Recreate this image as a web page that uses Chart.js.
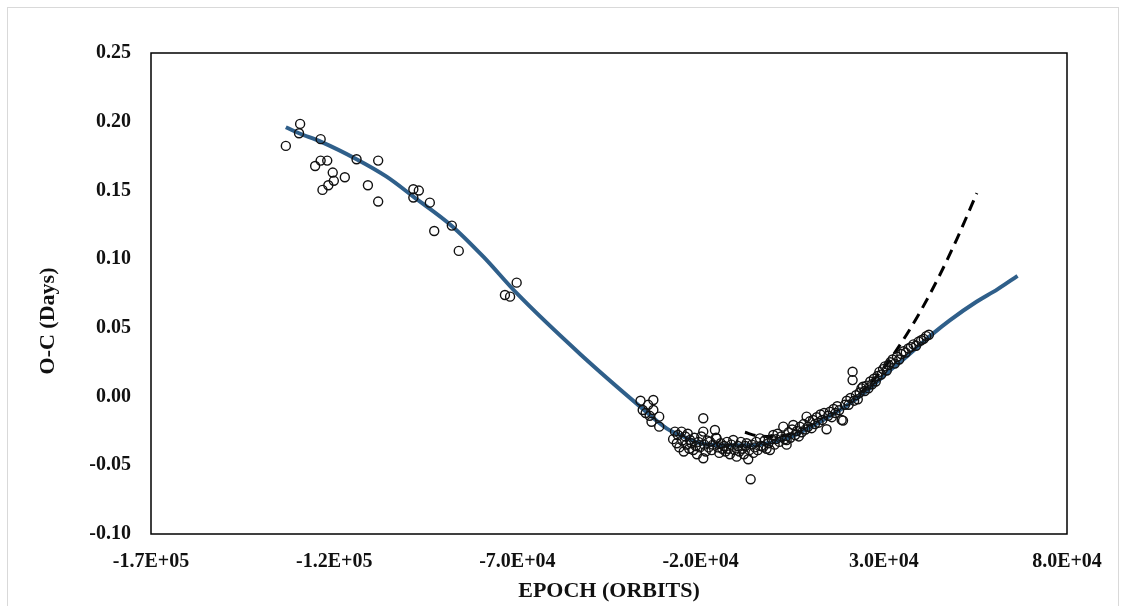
<!DOCTYPE html>
<html>
<head>
<meta charset="utf-8">
<script src="https://cdn.jsdelivr.net/npm/chart.js@4.4.0/dist/chart.umd.min.js"></script>
<style>
    body { margin: 0; background: #fff; }
    #wrap { position: relative; width: 1125px; height: 606px; overflow: hidden; }
    #frame { position: absolute; left: 7px; top: 7px; width: 1110px; height: 620px; border: 1px solid #d9d9d9; }
    #oc { position: absolute; left: 0; top: 0; }
</style>
</head>
<body>
<div id="wrap">
    <div id="frame"></div>
    <canvas id="oc" width="1125" height="606"></canvas>
</div>
<script>
// observed O-C timings [epoch, O-C days]
const observed = [
    [-133200, 0.1824], [-129300, 0.1984], [-129600, 0.1916], [-123700, 0.1873], [-125200, 0.1678],
    [-123700, 0.1717], [-121900, 0.1717], [-120400, 0.1630], [-120100, 0.1570], [-121600, 0.1538],
    [-123200, 0.1504], [-117100, 0.1596], [-113900, 0.1727], [-108000, 0.1717], [-110800, 0.1538],
    [-108000, 0.1419], [-98400, 0.1509], [-96900, 0.1499], [-98400, 0.1448], [-93900, 0.1411],
    [-87900, 0.1244], [-92700, 0.1205], [-86000, 0.1060],
    [-70200, 0.0829], [-73400, 0.0739], [-72000, 0.0727],
    [-36400, -0.003], [-35800, -0.0098], [-34300, -0.006], [-32900, -0.0025], [-32900, -0.0098],
    [-31300, -0.0146], [-33400, -0.0183], [-31300, -0.0219], [-35000, -0.012], [-33900, -0.014],
    [-27500, -0.031], [-27000, -0.0255], [-26500, -0.034], [-26200, -0.028], [-25800, -0.037],
    [-25200, -0.0255], [-25000, -0.032], [-24600, -0.040], [-24200, -0.029], [-23900, -0.035],
    [-23500, -0.027], [-23100, -0.038], [-22900, -0.0316], [-22500, -0.034], [-22000, -0.0389],
    [-21700, -0.030], [-21300, -0.036], [-21000, -0.042], [-20600, -0.033], [-20200, -0.037],
    [-19800, -0.029], [-19270, -0.0158], [-19270, -0.0255], [-19270, -0.0449], [-19000, -0.035],
    [-18600, -0.040], [-18200, -0.032], [-17800, -0.037], [-17440, -0.0328], [-17000, -0.039],
    [-16600, -0.035], [-16090, -0.0243], [-15800, -0.030], [-15620, -0.0304], [-15300, -0.037],
    [-14900, -0.041], [-14500, -0.034], [-14100, -0.038],
    [-13600, -0.036], [-13200, -0.040], [-12800, -0.033], [-12400, -0.038], [-12000, -0.042],
    [-11600, -0.035], [-11080, -0.0316], [-10700, -0.039], [-10160, -0.0437], [-9800, -0.036],
    [-9400, -0.040], [-9000, -0.033], [-8600, -0.038], [-8200, -0.042], [-7800, -0.036],
    [-7430, -0.034], [-7000, -0.0456], [-6700, -0.039], [-6340, -0.0602], [-6000, -0.035],
    [-5600, -0.041], [-5200, -0.037], [-4800, -0.033], [-4400, -0.039], [-3800, -0.0304],
    [-3500, -0.036], [-2890, -0.0365], [-2500, -0.032], [-2000, -0.038], [-1500, -0.034],
    [-1080, -0.0389], [-600, -0.031], [-160, -0.028], [200, -0.035],
    [600, -0.031], [1000, -0.027], [1500, -0.033], [2000, -0.029], [2570, -0.0219],
    [3000, -0.031], [3480, -0.0316], [3480, -0.035], [4000, -0.026], [4500, -0.030],
    [5000, -0.024], [5300, -0.0207], [5800, -0.028], [6300, -0.025], [6800, -0.029],
    [7120, -0.022], [7600, -0.026], [8100, -0.020], [8600, -0.024], [8930, -0.0146],
    [9300, -0.022], [9800, -0.018], [10300, -0.023], [10700, -0.017], [11200, -0.020],
    [11700, -0.015], [12200, -0.019], [12700, -0.013], [13200, -0.017], [13700, -0.012],
    [14380, -0.0238], [14800, -0.014], [15300, -0.011], [15800, -0.015], [16300, -0.009],
    [16800, -0.012], [17300, -0.007], [17800, -0.010], [18500, -0.017], [18870, -0.0175],
    [19400, -0.006], [19900, -0.003],
    [20400, -0.006], [20900, -0.001], [21480, 0.0181], [21480, 0.012], [21900, -0.003],
    [22400, 0.001], [22900, -0.002], [23400, 0.003], [23900, 0.006], [24300, 0.0072],
    [24800, 0.004], [25300, 0.008], [25800, 0.006], [26300, 0.011], [26800, 0.009],
    [27300, 0.013], [27800, 0.011], [28300, 0.015], [28800, 0.018], [29300, 0.016],
    [29800, 0.020], [30300, 0.022], [30800, 0.019], [31300, 0.023], [31800, 0.025],
    [32400, 0.027], [33000, 0.024], [33600, 0.029], [34200, 0.027], [34800, 0.031],
    [35400, 0.033], [36000, 0.032], [36700, 0.035], [37400, 0.036], [38100, 0.038],
    [38800, 0.037], [39500, 0.040], [40200, 0.041], [40900, 0.042], [41600, 0.044],
    [42300, 0.045]
];

// smooth fit (blue)
const fitEpoch = [-133200, -129600, -123700, -113900, -105700, -98400, -87900, -79300, -70200, -52900,
    -36500, -29300, -25600, -20000, -13000, -6000, 0, 5000, 10700, 19900,
    25300, 30800, 36200, 43500, 48000, 55300, 61000, 66500];
const fitOC = [0.196, 0.1916, 0.1855, 0.1727, 0.160, 0.1455, 0.1242, 0.1018, 0.0752, 0.031,
    -0.0073, -0.0231, -0.028, -0.034, -0.0355, -0.0355, -0.033, -0.029, -0.021, -0.0065,
    0.004, 0.017, 0.029, 0.046, 0.0555, 0.069, 0.078, 0.0878];

// quadratic ephemeris (dashed)
const quadEpoch = [-7900, -4600, 0, 5000, 10000, 15000, 20000, 25000, 30000, 35000, 40000, 45000, 50000, 55400];
const quadOC = [-0.026, -0.0285, -0.029, -0.027, -0.022, -0.015, -0.006, 0.006, 0.021, 0.040, 0.062, 0.087, 0.115, 0.148];

const xMin = -170000, xMax = 80000, xStep = 50000;
const yMin = -0.10, yMax = 0.25, yStep = 0.05;

const serif = "'Liberation Serif', 'Times New Roman', serif";

function sciLabel(v) {
    let s = Number(v).toExponential(1).toUpperCase();
    let parts = s.split('E');
    let sign = parts[1][0];
    let exp = parts[1].slice(1);
    if (exp.length < 2) exp = '0' + exp;
    return parts[0] + 'E' + sign + exp;
}

function fixedLabel(v) {
    if (Math.abs(v) < 1e-9) v = 0;
    return Number(v).toFixed(2);
}

// plot box + rotated y title
const boxPlugin = {
    id: 'box',
    afterDraw(chart) {
        const ctx = chart.ctx;
        const a = chart.chartArea;
        ctx.save();
        ctx.strokeStyle = '#000';
        ctx.lineWidth = 1.5;
        ctx.strokeRect(a.left, a.top, a.right - a.left, a.bottom - a.top);
        ctx.translate(48, 321);
        ctx.rotate(-Math.PI / 2);
        ctx.font = "bold 22px " + serif;
        ctx.fillStyle = '#111';
        ctx.textAlign = 'center';
        ctx.textBaseline = 'middle';
        ctx.fillText('O-C (Days)', 0, 0);
        ctx.restore();
    }
};

const ctx = document.getElementById('oc').getContext('2d');
const chart = new Chart(ctx, {
    type: 'scatter',
    data: {
        datasets: [
            {
                label: 'Observed',
                data: observed.map(p => ({x: p[0], y: p[1]})),
                pointRadius: 4.5,
                pointBorderWidth: 1.4,
                borderColor: '#111',
                backgroundColor: 'rgba(0,0,0,0)',
                showLine: false
            },
            {
                label: 'Fit',
                data: fitEpoch.map((x, i) => ({x: x, y: fitOC[i]})),
                showLine: true,
                pointRadius: 0,
                borderColor: '#2f5f8a',
                borderWidth: 4,
                cubicInterpolationMode: 'monotone'
            },
            {
                label: 'Quadratic',
                data: quadEpoch.map((x, i) => ({x: x, y: quadOC[i]})),
                showLine: true,
                pointRadius: 0,
                borderColor: '#000',
                borderWidth: 3,
                borderDash: [11, 7],
                cubicInterpolationMode: 'monotone'
            }
        ]
    },
    options: {
        responsive: false,
        animation: false,
        layout: {
            padding: {left: 0, top: 53, right: 58, bottom: 0}
        },
        plugins: {
            legend: {display: false},
            tooltip: {enabled: false}
        },
        scales: {
            x: {
                type: 'linear',
                min: xMin,
                max: xMax,
                grid: {display: false, drawTicks: false},
                border: {display: false},
                ticks: {
                    stepSize: xStep,
                    padding: 16,
                    color: '#111',
                    font: {family: serif, size: 20, weight: 'bold'},
                    maxRotation: 0,
                    callback: v => sciLabel(v)
                },
                title: {
                    display: true,
                    text: 'EPOCH (ORBITS)',
                    color: '#111',
                    font: {family: serif, size: 22, weight: 'bold'},
                    padding: {top: 0, bottom: 1}
                },
                afterFit: s => { s.height = 72; }
            },
            y: {
                min: yMin,
                max: yMax,
                grid: {display: false, drawTicks: false},
                border: {display: false},
                ticks: {
                    stepSize: yStep,
                    padding: 20,
                    color: '#111',
                    font: {family: serif, size: 20, weight: 'bold'},
                    callback: v => fixedLabel(v)
                },
                afterFit: s => { s.width = 151; }
            }
        }
    },
    plugins: [boxPlugin]
});
</script>
</body>
</html>
